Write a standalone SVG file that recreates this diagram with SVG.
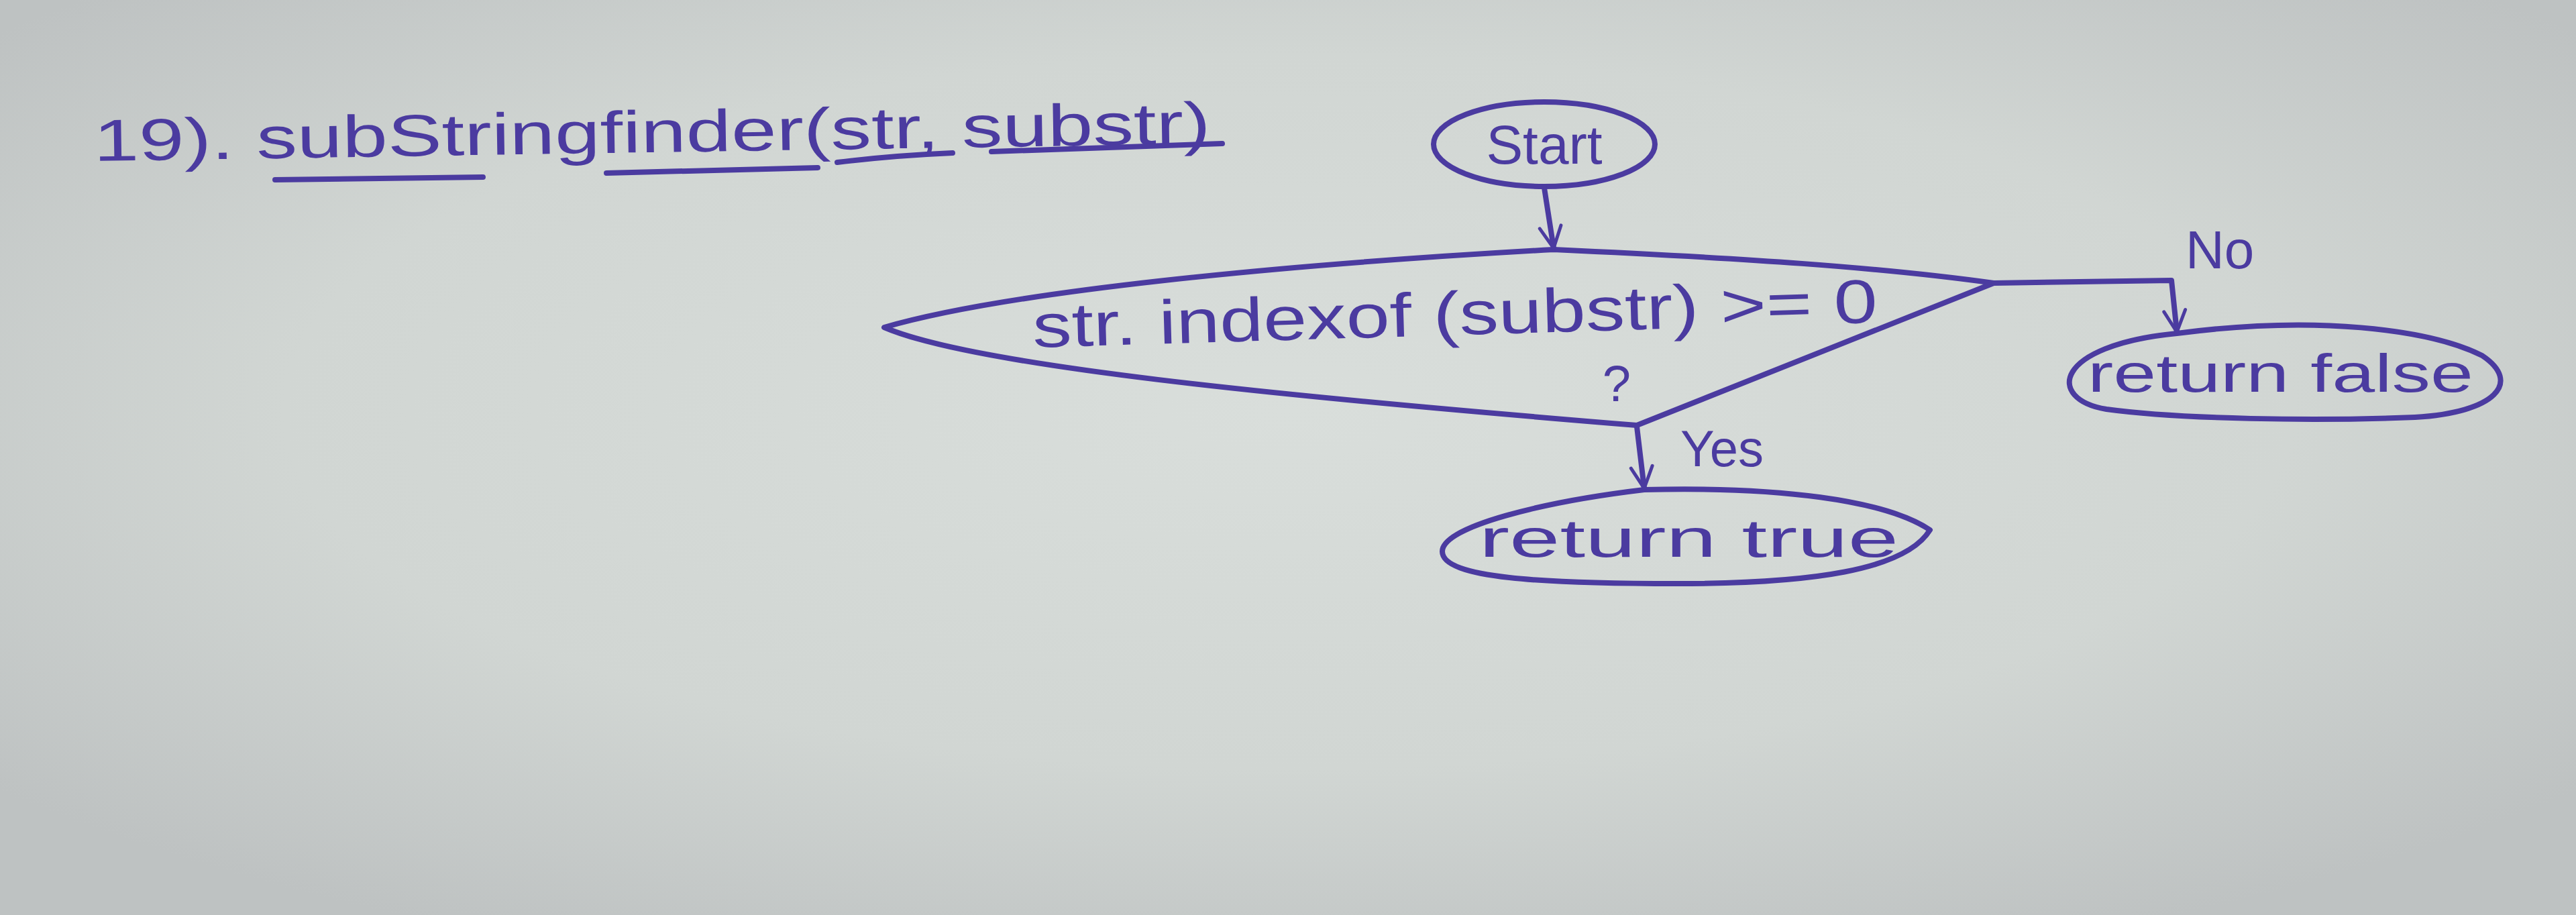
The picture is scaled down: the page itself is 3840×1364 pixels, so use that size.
<svg xmlns="http://www.w3.org/2000/svg" width="3840" height="1364" viewBox="0 0 3840 1364">
<defs>
<radialGradient id="paper" cx="50%" cy="45%" r="65%">
<stop offset="0" stop-color="#d9dedb"/>
<stop offset="0.6" stop-color="#d1d6d3"/>
<stop offset="1" stop-color="#bec2c2"/>
</radialGradient>
<marker id="arrow" viewBox="0 0 40 40" refX="36" refY="20" markerWidth="40" markerHeight="40" markerUnits="userSpaceOnUse" orient="auto">
<path d="M4,4 L36,20 L4,36" fill="none" stroke="#4b3ba0" stroke-width="5" stroke-linecap="round" stroke-linejoin="round"/>
</marker>
<style>
.ink{fill:none;stroke:#4b3ba0;stroke-width:8;stroke-linecap:round;stroke-linejoin:round}
.t{font-family:"Liberation Sans","DejaVu Sans",sans-serif;fill:#4b3ba0}
</style>
</defs>
<rect width="3840" height="1364" fill="url(#paper)"/>

<g id="title">
<text class="t" x="140" y="240" font-size="88" textLength="1665" lengthAdjust="spacingAndGlyphs" transform="rotate(-0.9 140 240)">19). subStringfinder(str, substr)</text>
<path class="ink" d="M410,268 L720,264 M904,258 L1219,250 M1248,242 Q1330,232 1420,228 M1478,226 L1822,214" stroke-width="6"/>
</g>

<g id="start">
<ellipse class="ink" cx="2302" cy="215" rx="165" ry="63"/>
<text class="t" x="2302" y="244" font-size="82" text-anchor="middle">Start</text>
</g>

<g id="decision">
<path class="ink" d="M1318,488 C1500,435 1900,395 2316,372 C2600,385 2800,398 2972,422 L2440,634 C1900,590 1450,545 1318,488 Z"/>
<text class="t" x="1540" y="518" font-size="92" textLength="1260" lengthAdjust="spacingAndGlyphs" transform="rotate(-1.7 1540 518)">str. indexof (substr) &gt;= 0</text>
<text class="t" x="2410" y="598" font-size="76" text-anchor="middle">?</text>
</g>

<g id="return-false">
<path class="ink" d="M3245,497 C3450,470 3620,490 3700,530 C3760,570 3720,615 3600,622 C3450,628 3250,625 3140,610 C3050,595 3060,515 3245,497 Z"/>
<text class="t" x="3112" y="584" font-size="80" textLength="575" lengthAdjust="spacingAndGlyphs">return false</text>
</g>

<g id="return-true">
<path class="ink" d="M2451,730 C2650,725 2810,745 2877,790 C2840,850 2700,870 2500,870 C2300,870 2150,862 2150,822 C2150,785 2300,748 2451,730 Z"/>
<text class="t" x="2205" y="830" font-size="80" textLength="625" lengthAdjust="spacingAndGlyphs">return true</text>
</g>

<g id="connectors">
<path class="ink" d="M2302,280 L2316,370" marker-end="url(#arrow)"/>
<path class="ink" d="M2972,422 L3237,418 L3245,495" marker-end="url(#arrow)"/>
<path class="ink" d="M2440,636 L2451,728" marker-end="url(#arrow)"/>
<text class="t" x="3258" y="400" font-size="80">No</text>
<text class="t" x="2505" y="695" font-size="76">Yes</text>
</g>
</svg>
